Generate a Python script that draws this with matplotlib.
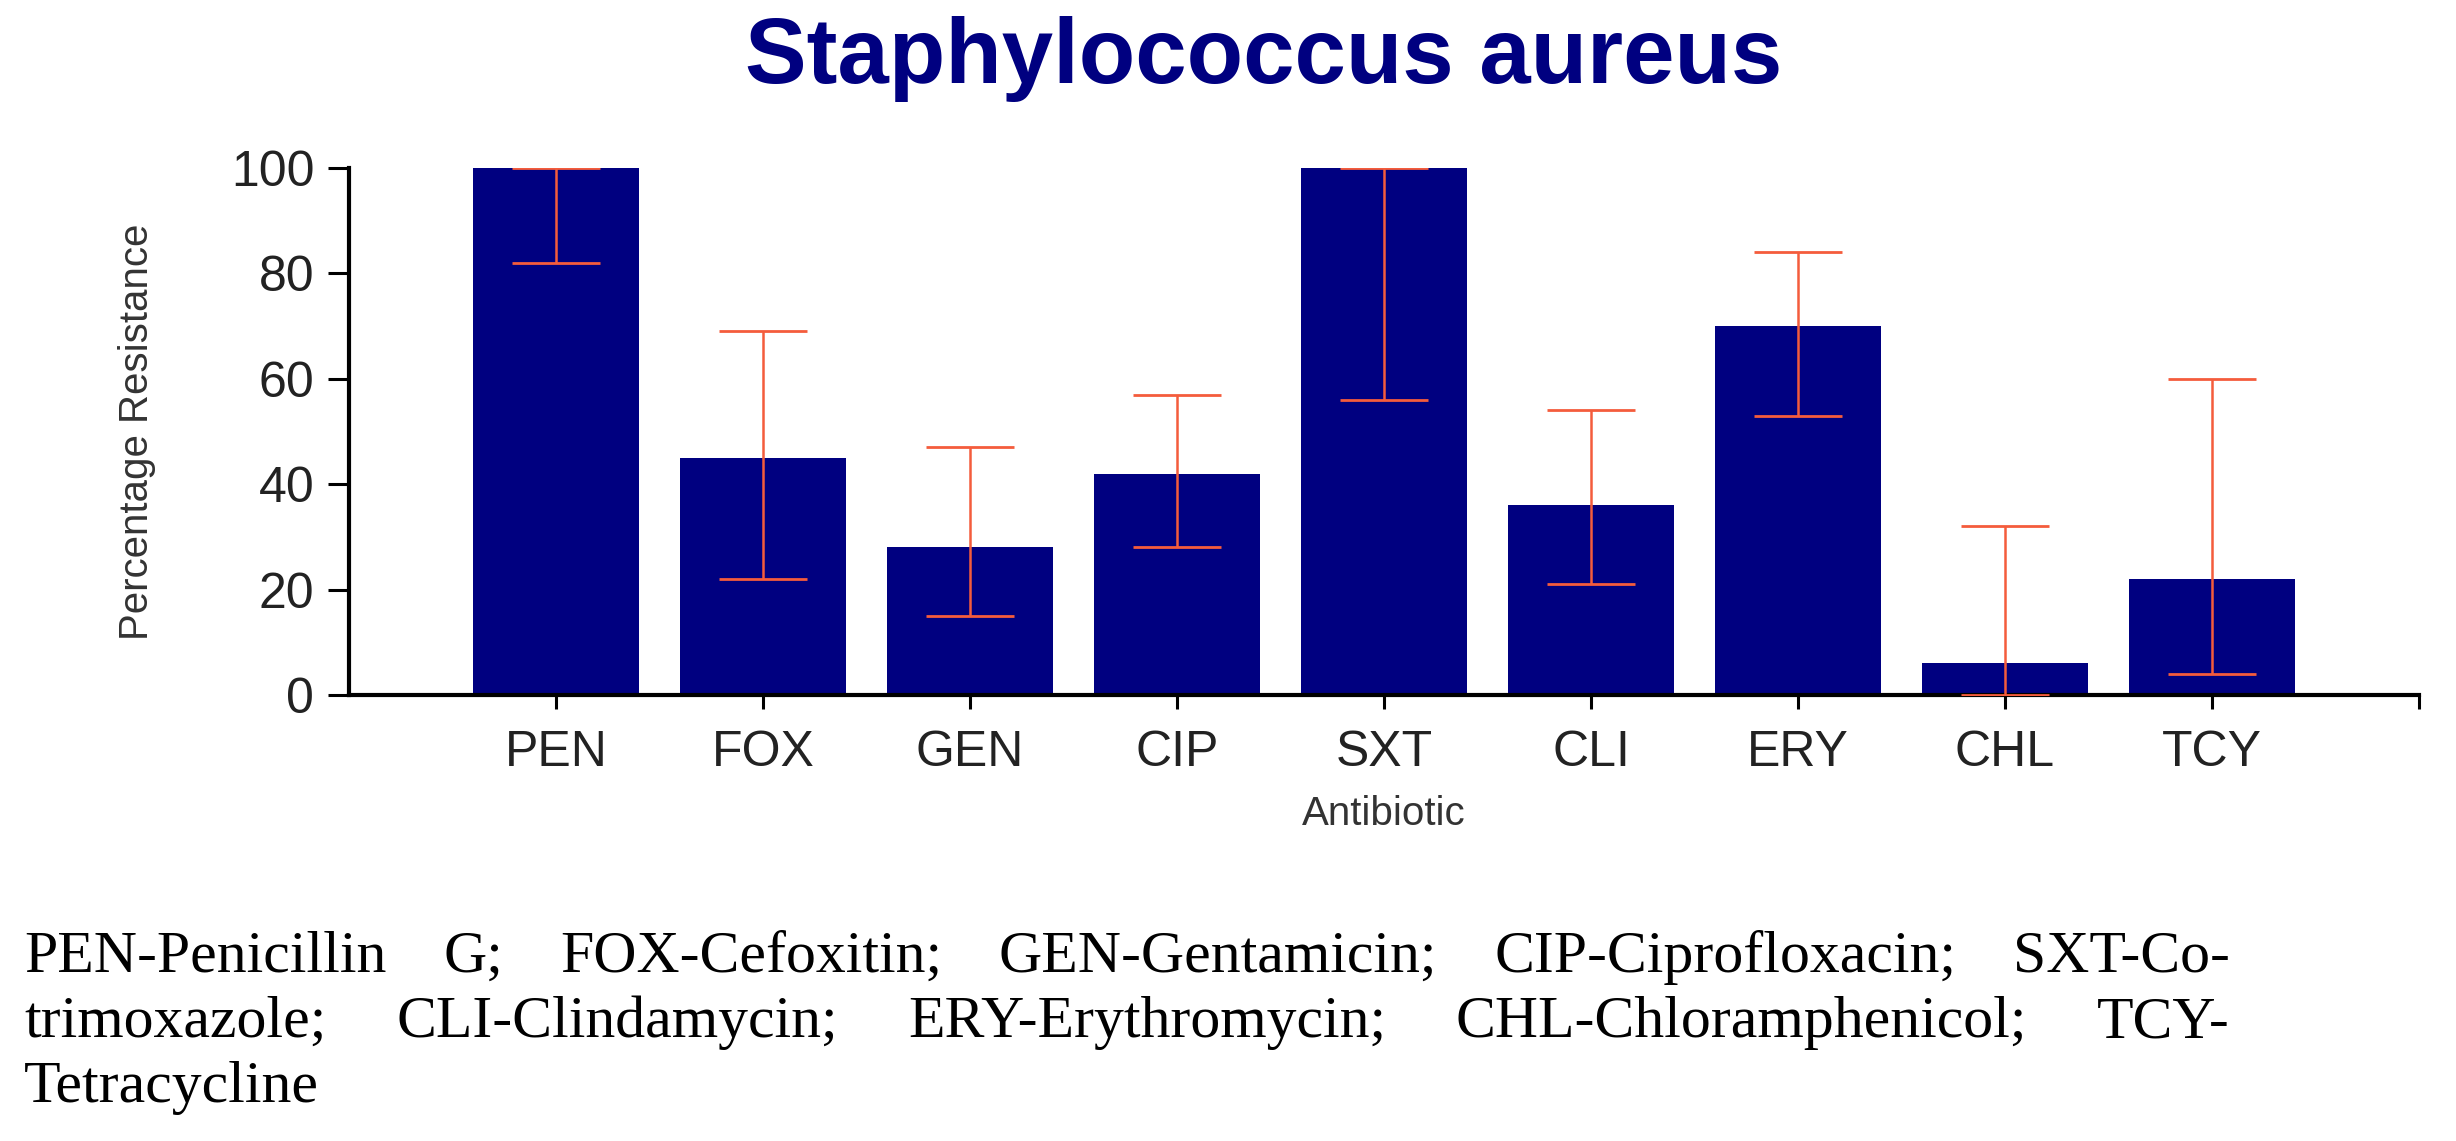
import numpy as np
import matplotlib
matplotlib.use("Agg")
import matplotlib.pyplot as plt

antibiotics = ["PEN", "FOX", "GEN", "CIP", "SXT", "CLI", "ERY", "CHL", "TCY"]
resistance = [100, 45, 28, 42, 100, 36, 70, 6, 22]
ci_low = [82, 22, 15, 28, 56, 21, 53, 0, 4]
ci_high = [100, 69, 47, 57, 100, 54, 84, 32, 60]

footnote_lines = [
    "PEN-Penicillin G; FOX-Cefoxitin; GEN-Gentamicin; CIP-Ciprofloxacin; SXT-Co-",
    "trimoxazole; CLI-Clindamycin; ERY-Erythromycin; CHL-Chloramphenicol; TCY-",
    "Tetracycline",
]

navy = "#000080"
err_col = "#f45c3c"
sans = ["Liberation Sans", "DejaVu Sans"]
serif = ["Liberation Serif", "DejaVu Serif"]

W, H = 2456, 1141
fig = plt.figure(figsize=(W / 100, H / 100), dpi=100)
# axes box in pixels: x 349..2419, y 168..695
ax = fig.add_axes([349 / W, 1 - 695 / H, 2070 / W, 527 / H])

x = np.arange(1, len(antibiotics) + 1)
vals = np.array(resistance)
yerr = [vals - np.array(ci_low), np.array(ci_high) - vals]

ax.bar(x, vals, width=0.8, color=navy, zorder=2)
ax.errorbar(x, vals, yerr=yerr, fmt="none", ecolor=err_col, elinewidth=1.8,
            capsize=31.5, capthick=2.0, zorder=3)

ax.set_xlim(0, 10)
ax.set_ylim(0, 100)
ax.set_xticks(list(x) + [10])
ax.set_xticklabels(antibiotics + [""], family=sans, fontsize=36, color="#222222")
ax.set_yticks([0, 20, 40, 60, 80, 100])
ax.set_yticklabels(["0", "20", "40", "60", "80", "100"], family=sans, fontsize=36,
                   color="#222222")
ax.tick_params(axis="x", length=10, width=2.2, direction="out", pad=15)
ax.tick_params(axis="y", length=15, width=2.2, direction="out", pad=10)

for s in ["top", "right"]:
    ax.spines[s].set_visible(False)
for s in ["left", "bottom"]:
    ax.spines[s].set_linewidth(3)

ax.set_ylabel("Percentage Resistance", family=sans, fontsize=29, color="#333333",
              va="center")
ax.yaxis.set_label_coords((137 - 349) / 2070, 0.5)
ax.set_xlabel("Antibiotic", family=sans, fontsize=29, color="#333333", va="baseline")
ax.xaxis.set_label_coords(0.5, (695 - 825) / 527)

fig.text(1264 / W, 1 - 83 / H, "Staphylococcus aureus", ha="center", va="baseline",
         fontsize=66.5, fontweight="bold", color=navy, family=sans)

# footnote: first two lines justified between x0 and x1 (pixels)
x0, x1 = 24, 2230
baselines = [972, 1037, 1102]
renderer = fig.canvas.get_renderer()
for i, line in enumerate(footnote_lines):
    yb = 1 - baselines[i] / H
    if i == len(footnote_lines) - 1:
        fig.text(x0 / W, yb, line, ha="left", va="baseline", fontsize=43,
                 color="black", family=serif)
        continue
    words = line.split(" ")
    texts = [fig.text(0, yb, w, ha="left", va="baseline", fontsize=43,
                      color="black", family=serif) for w in words]
    widths = [t.get_window_extent(renderer).width for t in texts]
    gap = (x1 - x0 - sum(widths)) / (len(words) - 1)
    pos = x0
    for t, w in zip(texts, widths):
        t.set_x(pos / W)
        pos += w + gap

fig.savefig("out.png", dpi=100, facecolor="white")
